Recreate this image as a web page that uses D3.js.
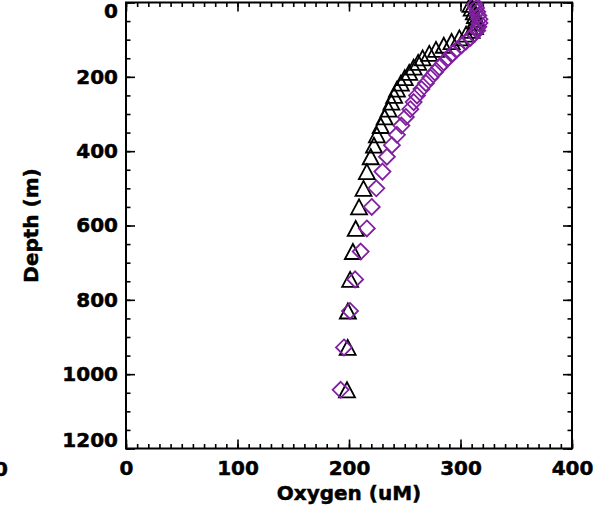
<!DOCTYPE html>
<html>
<head>
<meta charset="utf-8">
<script src="https://cdn.jsdelivr.net/npm/d3@7"></script>
<style>
  html, body { margin: 0; padding: 0; background: #fff; }
  svg text { font-family: "DejaVu Sans", sans-serif; font-weight: bold; fill: #000; stroke: #000; stroke-width: 0.5px; }
</style>
</head>
<body>
<svg id="chart" width="615" height="524"></svg>
<script>
// Model depth levels (m)
const depth = [5, 15, 25, 35, 45, 55, 65, 75, 85, 95, 105, 115, 126, 137, 149, 161, 174, 188, 202, 217,
  233, 250, 268, 287, 308, 331, 356, 384, 415, 455, 500, 550, 608, 670, 745, 830, 928, 1042];

// Oxygen profile, black triangles (uM)
const oxygenTri = [309, 310, 312, 313, 314, 314, 313, 310, 305, 299, 292, 285, 278, 272, 266, 262, 258, 254, 250, 246.5,
  243, 240.5, 238, 235.5, 232, 228.5, 225, 222.4, 219.5, 216, 213, 209, 206, 203.5, 201, 199, 198.8, 198.2];

// Oxygen profile, purple diamonds (uM)
const oxygenDia = [313, 314, 315, 316, 317, 317, 316, 315, 312, 309, 305, 301, 297, 293, 289, 285, 281, 277, 273, 269,
  265, 261, 258, 255, 251, 247, 243, 238.5, 234, 230, 224.5, 220.4, 216, 210.5, 205.5, 200.9, 195.5, 192.5];

const xTicks = [0, 100, 200, 300, 400];
const yTicks = [0, 200, 400, 600, 800, 1000, 1200];
const xLabel = "Oxygen (uM)";
const yLabel = "Depth (m)";

const svg = d3.select("#chart");
const L = 126, R = 572, T = 2.5, B = 448.5;

const x = d3.scaleLinear().domain([0, 400]).range([L, R]);
const y = d3.scaleLinear().domain([0, 1200]).range([T, B]);

const xMinor = d3.range(0, 401, 10);
const yMinor = d3.range(0, 1201, 50);

function styleAxis(g) {
  g.select(".domain").remove();
  g.selectAll(".tick line").attr("stroke", "#000").attr("stroke-width", 1.6);
  g.selectAll("text").attr("font-size", 20).attr("font-family", "DejaVu Sans").attr("font-weight", "bold").attr("fill", "#000");
}

// minor ticks on all four sides (inward)
svg.append("g").attr("transform", `translate(0,${B})`)
  .call(d3.axisBottom(x).tickValues(xMinor).tickSize(-4.5).tickFormat(""))
  .call(styleAxis);
svg.append("g").attr("transform", `translate(0,${T})`)
  .call(d3.axisTop(x).tickValues(xMinor).tickSize(-4.5).tickFormat(""))
  .call(styleAxis);
svg.append("g").attr("transform", `translate(${L},0)`)
  .call(d3.axisLeft(y).tickValues(yMinor).tickSize(-4.5).tickFormat(""))
  .call(styleAxis);
svg.append("g").attr("transform", `translate(${R},0)`)
  .call(d3.axisRight(y).tickValues(yMinor).tickSize(-4.5).tickFormat(""))
  .call(styleAxis);

// major ticks with labels
svg.append("g").attr("transform", `translate(0,${B})`)
  .call(d3.axisBottom(x).tickValues(xTicks).tickSize(-9).tickPadding(12).tickFormat(d3.format("d")))
  .call(styleAxis);
svg.append("g").attr("transform", `translate(0,${T})`)
  .call(d3.axisTop(x).tickValues(xTicks).tickSize(-9).tickFormat(""))
  .call(styleAxis);
const yAxisG = svg.append("g").attr("transform", `translate(${L},0)`)
  .call(d3.axisLeft(y).tickValues(yTicks).tickSize(-9).tickPadding(8).tickFormat(d3.format("d")))
  .call(styleAxis);
svg.append("g").attr("transform", `translate(${R},0)`)
  .call(d3.axisRight(y).tickValues(yTicks).tickSize(-9).tickFormat(""))
  .call(styleAxis);

// keep the end labels inside the frame height
yAxisG.selectAll(".tick text").filter(d => d === 0).attr("dy", "0.77em");
yAxisG.selectAll(".tick text").filter(d => d === 1200).attr("dy", "-0.12em");

// frame
svg.append("rect")
  .attr("x", L).attr("y", T).attr("width", R - L).attr("height", B - T)
  .attr("fill", "none").attr("stroke", "#000").attr("stroke-width", 2);

// axis titles
svg.append("text")
  .attr("x", (L + R) / 2).attr("y", 500)
  .attr("text-anchor", "middle").attr("font-size", 20)
  .text(xLabel);
svg.append("text")
  .attr("transform", `translate(38,${(T + B) / 2}) rotate(-90)`)
  .attr("text-anchor", "middle").attr("font-size", 20)
  .text(yLabel);

// neighbouring panel's axis label at the left edge
svg.append("text")
  .attr("x", 8).attr("y", 476)
  .attr("text-anchor", "end").attr("font-size", 20)
  .text("0");

// markers
const tri = depth.map((d, i) => ({ d, o: oxygenTri[i] }));
const dia = depth.map((d, i) => ({ d, o: oxygenDia[i] }));

svg.append("g").selectAll("path").data(tri).join("path")
  .attr("d", "M-8,7.5L0,-7.5L8,7.5Z")
  .attr("transform", p => `translate(${x(p.o)},${y(p.d)})`)
  .attr("fill", "none").attr("stroke", "#000").attr("stroke-width", 1.8)
  .attr("stroke-linejoin", "miter");

svg.append("g").selectAll("path").data(dia).join("path")
  .attr("d", "M0,-8L8,0L0,8L-8,0Z")
  .attr("transform", p => `translate(${x(p.o)},${y(p.d)})`)
  .attr("fill", "none").attr("stroke", "#8020a0").attr("stroke-width", 1.8);
</script>
</body>
</html>
